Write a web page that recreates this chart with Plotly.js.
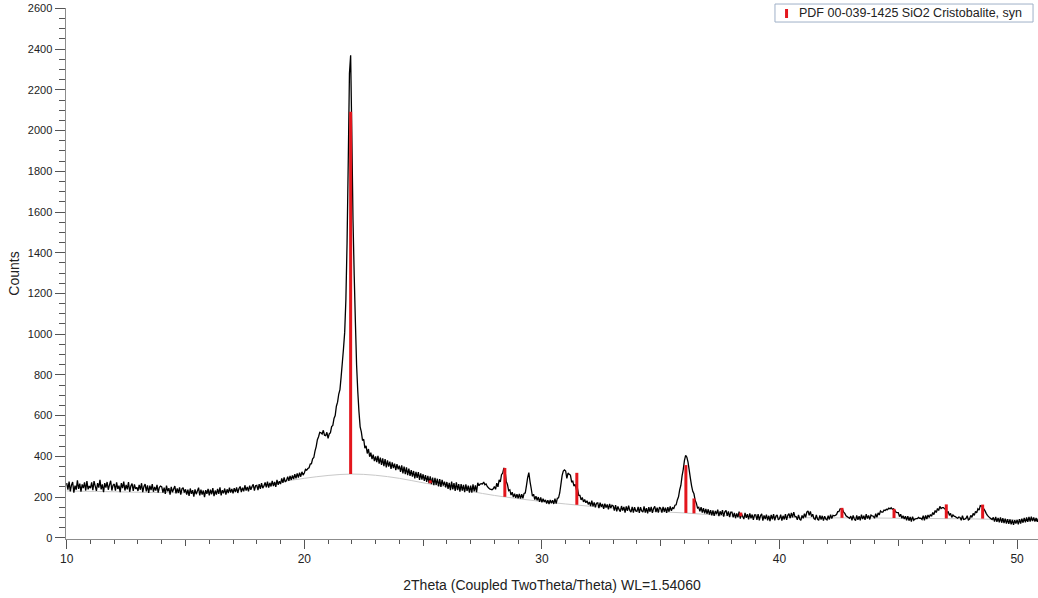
<!DOCTYPE html>
<html>
<head>
<meta charset="utf-8">
<script src="https://cdn.plot.ly/plotly-3.0.1.min.js"></script>
<style>html,body{margin:0;padding:0;background:#fff}#chart{width:1038px;height:598px}</style>
</head>
<body>
<div id="chart"></div>
<script>
// Measurement grid (2Theta, degrees)
const twoThetaStart = 10.0;
const twoThetaStep = 0.05;

// Counts, one row per degree (20 points of 0.05 deg), starting at 10.00
const counts = [
  268,236,276,228,258,274,222,256,236,282,240,266,226,262,244,272,232,278,238,254,
  244,272,234,278,254,230,268,246,284,238,262,224,268,246,274,236,260,280,232,258,
  264,232,272,240,256,224,268,244,276,232,260,238,274,226,254,266,230,262,240,248,
  230,260,236,268,224,252,264,228,258,220,256,234,264,226,250,232,260,222,248,254,
  250,222,246,216,256,228,244,212,250,224,240,254,218,242,220,248,212,240,246,222,
  238,212,236,206,242,216,234,202,238,214,230,246,208,236,212,232,200,234,216,240,
  208,236,214,244,204,232,212,240,216,248,208,234,218,242,212,238,220,246,222,240,
  218,244,224,248,220,242,252,224,246,228,258,232,250,228,256,236,252,262,232,256,
  258,234,264,240,268,244,254,272,248,276,246,270,252,280,254,274,250,284,260,278,
  264,292,270,296,274,282,300,280,304,284,306,288,312,292,316,296,320,300,324,308,
  318,336,332,340,344,362,364,388,394,426,448,482,496,518,516,510,528,504,502,518,
  488,510,516,546,552,586,600,646,666,706,728,790,860,930,1010,1170,1450,1850,2280,2370,
  1980,1560,1290,1060,850,720,620,545,520,478,484,440,452,414,436,398,418,386,408,376,
  400,372,402,364,394,358,390,352,386,346,380,350,374,338,370,342,364,332,362,336,
  354,324,356,316,350,312,346,308,340,304,332,300,328,292,324,294,322,284,316,286,
  312,280,308,274,304,268,302,264,296,258,294,260,290,252,288,250,284,256,276,248,
  274,240,270,234,276,238,268,230,272,234,264,226,264,232,260,224,262,230,256,222,
  256,222,262,228,258,224,270,256,264,266,264,274,260,264,252,246,240,238,236,240,
  252,238,268,250,284,274,310,318,343,328,276,262,232,236,210,224,200,216,196,214,
  194,216,192,214,194,218,220,256,295,320,276,242,204,214,188,204,184,200,176,198,
  174,192,176,186,168,184,166,186,170,184,166,192,168,194,196,220,262,305,328,333,
  328,292,318,312,308,276,278,254,262,238,240,208,208,186,198,176,188,172,182,164,
  176,156,182,154,174,150,170,172,146,172,152,166,142,168,148,164,140,166,146,160,
  156,134,160,130,154,138,128,156,134,152,124,154,132,158,134,126,152,124,150,132,
  130,152,122,150,132,126,154,124,146,120,150,128,152,122,144,154,126,148,124,150,
  144,124,152,128,148,122,150,128,154,132,148,144,160,162,186,201,236,258,304,336,
  380,405,396,372,332,292,255,228,216,184,170,146,150,130,150,124,146,120,142,118,
  140,114,136,110,134,108,132,116,138,106,130,112,136,104,128,134,108,130,102,126,
  126,100,122,96,120,100,128,94,118,104,92,122,98,116,90,120,96,114,88,112,
  112,88,116,86,108,118,84,110,92,114,86,108,82,112,90,116,86,106,112,88,
  94,114,84,108,90,116,88,110,118,96,122,100,126,104,104,88,112,92,86,110,
  96,118,100,126,132,110,130,104,116,94,90,112,92,86,110,90,108,84,106,92,
  88,108,90,114,94,110,108,110,114,128,128,142,142,140,126,120,108,104,100,96,
  106,86,110,92,84,110,88,106,86,114,92,108,88,116,94,110,90,112,108,106,
  96,118,100,122,112,132,126,126,136,134,140,138,146,142,148,140,142,136,126,124,
  124,104,116,96,108,92,106,86,106,84,102,80,104,86,92,94,94,100,96,96,
  90,108,86,110,92,112,100,114,106,124,114,134,124,144,134,154,144,148,148,142,
  142,120,130,110,120,100,112,106,104,100,96,102,100,86,108,90,92,96,108,88,
  92,110,100,120,110,130,122,142,136,158,156,154,142,132,120,110,104,98,94,90,
  100,80,102,78,98,76,100,74,96,72,94,70,92,68,90,66,88,64,86,70,
  88,66,92,70,94,74,98,76,100,78,102,80,104,82,100,80,98,78,96,82
];

// Background (amorphous hump) curve
const bgX = [10, 12, 14, 16, 17, 18, 19, 20, 21, 22, 23, 24, 25, 26, 27, 28, 29, 30, 31, 32, 33, 34, 35, 36, 37, 38, 40, 42, 44, 46, 48, 50, 50.9];
const bgY = [230, 226, 222, 222, 232, 250, 274, 292, 306, 313, 307, 292, 270, 250, 228, 208, 192, 178, 166, 155, 145, 136, 128, 122, 114, 107, 100, 98, 97, 95, 93, 88, 86];

// Reference pattern PDF 00-039-1425 (sticks)
const stickPos = [21.95, 25.30, 28.44, 31.47, 36.06, 36.40, 38.37, 42.63, 44.82, 47.02, 48.55];
const stickBase = [313, 268, 201, 162, 122, 120, 106, 98, 97, 95, 94];
const stickHeight = [1780, 14, 142, 157, 235, 73, 18, 49, 45, 69, 69];
const refName = 'PDF 00-039-1425 SiO2 Cristobalite, syn';

const yTickVals = [0,200,400,600,800,1000,1200,1400,1600,1800,2000,2200,2400,2600];
const xTickVals = [10,20,30,40,50];

const twoTheta = counts.map((_, i) => +(twoThetaStart + i * twoThetaStep).toFixed(2));

const sx = [], sy = [];
stickPos.forEach((p, i) => {
  sx.push(p, p, null);
  sy.push(stickBase[i], stickBase[i] + stickHeight[i], null);
});

const RED = '#e3161d';
const FONT = 'Liberation Sans, Arial, Helvetica, sans-serif';

const traces = [
  {x: bgX, y: bgY, type: 'scatter', mode: 'lines', line: {color: '#c9c9c9', width: 1, shape: 'spline'}, showlegend: false, hoverinfo: 'skip'},
  {x: twoTheta, y: counts, type: 'scatter', mode: 'lines', line: {color: '#000000', width: 1.3, simplify: false}, showlegend: false},
  {x: sx, y: sy, type: 'scatter', mode: 'lines', name: refName, line: {color: RED, width: 3}, showlegend: false},
  {x: [15, 25, 35, 45], y: [null, null, null, null], xaxis: 'x2', type: 'scatter', mode: 'markers', showlegend: false, hoverinfo: 'skip'}
];

const layout = {
  width: 1038, height: 598,
  margin: {l: 66, r: 0, t: 8, b: 59, pad: 0},
  paper_bgcolor: '#ffffff', plot_bgcolor: '#ffffff',
  font: {family: FONT, size: 11, color: '#222'},
  showlegend: false,
  xaxis: {
    range: [9.97, 50.88], tickmode: 'array', tickvals: xTickVals, ticktext: xTickVals.map(String),
    ticks: 'outside', ticklen: 9, tickcolor: '#555', tickwidth: 1,
    showline: true, linecolor: '#8c8c8c', linewidth: 1, showgrid: false, zeroline: false,
    tickfont: {size: 12, color: '#222'},
    minor: {dtick: 1, tick0: 10, ticks: 'outside', ticklen: 4, tickcolor: '#555', showgrid: false},
    title: {text: '2Theta (Coupled TwoTheta/Theta) WL=1.54060', font: {size: 14, color: '#222'}, standoff: 14}
  },
  xaxis2: {
    overlaying: 'x', matches: 'x', anchor: 'y', side: 'bottom', tickmode: 'array', tickvals: [15, 25, 35, 45],
    showticklabels: false, ticks: 'outside', ticklen: 6, tickcolor: '#555', showgrid: false, zeroline: false, showline: false
  },
  yaxis: {
    range: [-6, 2602], tickmode: 'array', tickvals: yTickVals, ticktext: yTickVals.map(String),
    ticks: 'outside', ticklen: 10, tickcolor: '#555', tickwidth: 1,
    showline: true, linecolor: '#8c8c8c', linewidth: 1.5, showgrid: false, zeroline: false,
    tickfont: {size: 11, color: '#222'},
    minor: {dtick: 50, tick0: 0, ticks: 'outside', ticklen: 6, tickcolor: '#555', showgrid: false},
    title: {text: 'Counts', font: {size: 14, color: '#222'}, standoff: 5}
  },
  // legend box (drawn as shapes + text to match the reference layout)
  shapes: [
    {type: 'rect', xref: 'paper', yref: 'paper', x0: 0.7294, x1: 0.9949, y0: 0.9736, y1: 1.0075,
     line: {color: '#9fb0c8', width: 1}, fillcolor: '#ffffff', layer: 'above'},
    {type: 'line', xref: 'paper', yref: 'paper', x0: 0.7413, x1: 0.7413, y0: 0.9812, y1: 0.9981,
     line: {color: RED, width: 3}, layer: 'above'}
  ],
  annotations: [
    {xref: 'paper', yref: 'paper', x: 0.7521, y: 0.9906, xanchor: 'left', yanchor: 'middle',
     text: refName, showarrow: false, font: {size: 12.5, color: '#222', family: FONT}}
  ]
};

Plotly.newPlot('chart', traces, layout, {displayModeBar: false, staticPlot: true});
</script>
</body>
</html>
